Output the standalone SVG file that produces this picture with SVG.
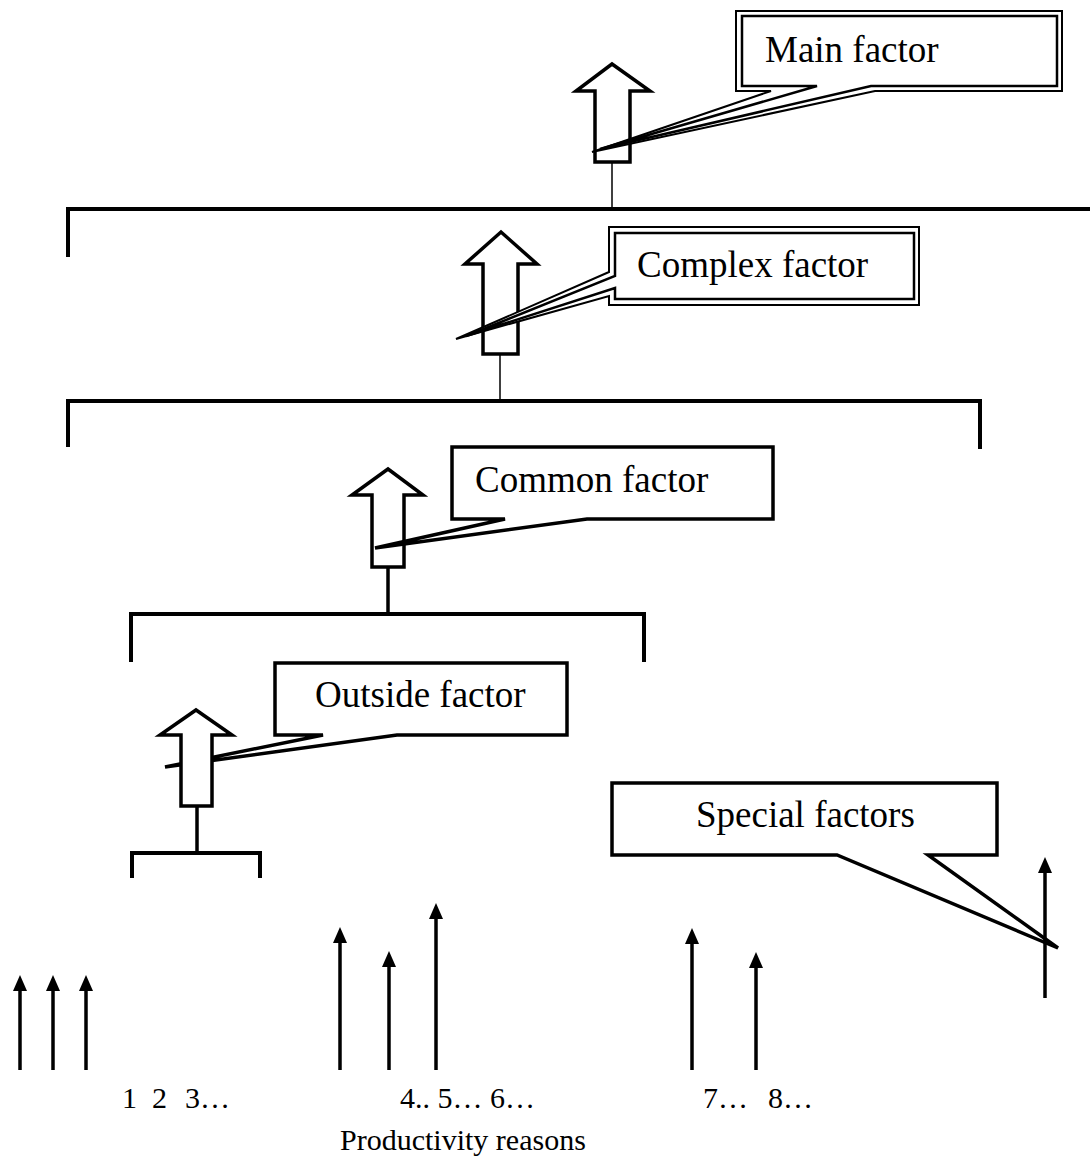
<svg xmlns="http://www.w3.org/2000/svg" width="1090" height="1156" viewBox="0 0 1090 1156">
<style>
.lbl{font-family:"Liberation Serif","Times New Roman",serif;font-size:37px;fill:#000}
.num{font-family:"Liberation Serif","Times New Roman",serif;font-size:30px;fill:#000}
.blk{fill:#fff;stroke:#000;stroke-width:3.5;stroke-linejoin:miter}
.box{fill:#fff;stroke:#000;stroke-width:3.5;stroke-linejoin:miter}
.dbo{fill:#fff;stroke:#000;stroke-width:2}
.dbi{fill:none;stroke:#000;stroke-width:2.5}
.brk{fill:none;stroke:#000;stroke-width:4}
.thin{stroke:#000;stroke-width:1.5}
.stem{stroke:#000;stroke-width:3.5}
.up{stroke:#000;stroke-width:3.5;marker-end:url(#ah)}
</style>
<defs>
<marker id="ah" markerUnits="userSpaceOnUse" markerWidth="14" markerHeight="16" viewBox="0 0 14 16" refX="7" refY="14" orient="0">
<path d="M0,16 L7,0 L14,16 Z" fill="#000"/>
</marker>
</defs>

<g id="main-factor">
<path class="blk" d="M595,162 V91 H576 L612,64 L650,91 H630 V162 Z"/>
<path class="dbo" d="M736,11 H1062 V91 H875 L592,152 L771,91 H736 Z"/>
<path class="dbi" d="M742,16 H1057 V86 H871 L600,149 L817,86 H742 Z"/>
<text class="lbl" x="765" y="62">Main factor</text>
</g>

<g id="complex-factor">
<path class="blk" d="M483,354 V264 H465 L501,232 L537,264 H518 V354 Z"/>
<path class="dbo" d="M609,227 H919 V305 H609 V296 L456,339 L609,272 Z"/>
<path class="dbi" d="M615,233 H914 V299 H615 V288 L466,336 L615,276 Z"/>
<text class="lbl" x="637" y="277">Complex factor</text>
</g>

<g id="common-factor">
<path class="blk" d="M372,567 V495 H352 L388,469 L423,495 H404 V567 Z"/>
<path class="box" d="M452,447 H773 V519 H587 L375,548 L505,519 H452 Z"/>
<text class="lbl" x="475" y="492">Common factor</text>
</g>

<g id="outside-factor">
<path class="box" d="M275,663 H567 V735 H397 L165,767 L323,735 H275 Z"/>
<path class="blk" d="M181,806 V735 H160 L196,710 L232,735 H212 V806 Z"/>
<text class="lbl" x="315" y="707">Outside factor</text>
</g>

<g id="special-factors">
<path class="box" d="M612,783 H997 V855 H928 L1058,948 L837,855 H612 Z"/>
<text class="lbl" x="696" y="827">Special factors</text>
</g>

<g id="labels">
<text class="num" x="122" y="1108">1</text>
<text class="num" x="152" y="1108">2</text>
<text class="num" x="185" y="1108">3…</text>
<text class="num" x="400" y="1108">4.. 5… 6…</text>
<text class="num" x="703" y="1108">7…</text>
<text class="num" x="768" y="1108">8…</text>
<text class="num" x="340" y="1150">Productivity reasons</text>
</g>

<g id="connectors">
<path class="brk" d="M68,257 V209 H1090"/>
<line class="thin" x1="612" y1="162" x2="612" y2="209"/>
<path class="brk" d="M68,447 V401 H980 V449"/>
<line class="thin" x1="500" y1="354" x2="500" y2="401"/>
<path class="brk" d="M131,662 V614 H644 V662"/>
<line class="stem" x1="388" y1="567" x2="388" y2="614"/>
<path class="brk" d="M132,878 V853 H260 V878"/>
<line class="stem" x1="197" y1="806" x2="197" y2="853"/>
<line class="up" x1="20" y1="1070" x2="20" y2="989"/>
<line class="up" x1="53" y1="1070" x2="53" y2="989"/>
<line class="up" x1="86" y1="1070" x2="86" y2="989"/>
<line class="up" x1="340" y1="1070" x2="340" y2="941"/>
<line class="up" x1="389" y1="1070" x2="389" y2="965"/>
<line class="up" x1="436" y1="1070" x2="436" y2="917"/>
<line class="up" x1="692" y1="1070" x2="692" y2="942"/>
<line class="up" x1="756" y1="1070" x2="756" y2="966"/>
<line class="up" x1="1045" y1="998" x2="1045" y2="871"/>
</g>
</svg>
